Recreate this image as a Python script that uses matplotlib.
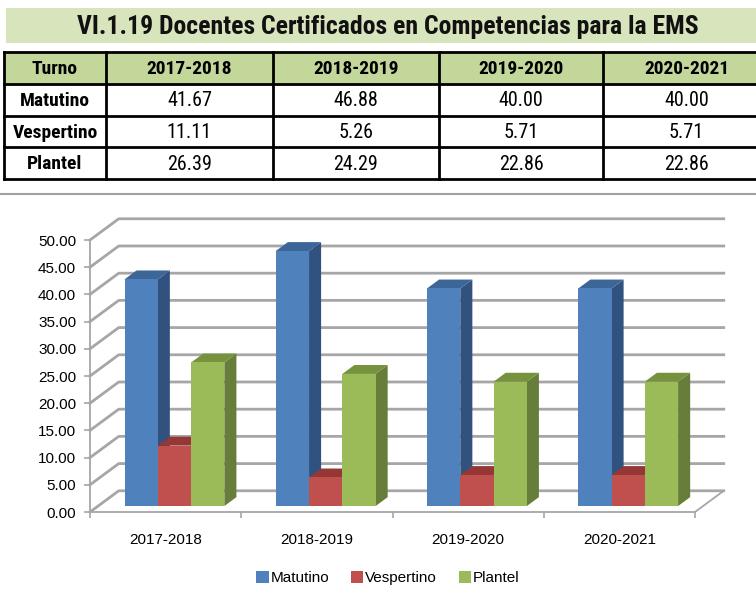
import numpy as np
import matplotlib
matplotlib.use("Agg")
import matplotlib.pyplot as plt
from matplotlib.patches import Rectangle, Polygon, Patch

plt.rcParams['font.family'] = ['Liberation Sans', 'DejaVu Sans']
NARROW = ['Roboto Condensed', 'Liberation Sans', 'DejaVu Sans']

# data
title = "VI.1.19 Docentes Certificados en Competencias para la EMS"
periods = ["2017-2018", "2018-2019", "2019-2020", "2020-2021"]
turnos = ["Matutino", "Vespertino", "Plantel"]
matutino = [41.67, 46.88, 40.00, 40.00]
vespertino = [11.11, 5.26, 5.71, 5.71]
plantel = [26.39, 24.29, 22.86, 22.86]
series = [matutino, vespertino, plantel]
yticks = np.arange(0, 55, 5)

# colours: front, top, side
colors = [("#4f81bd", "#3c6598", "#31527f"),
          ("#c0504d", "#953735", "#8c3836"),
          ("#9bbb59", "#76923c", "#677e3a")]
grid_c = "#a6a6a6"

fig = plt.figure(figsize=(7.56, 6.0), dpi=100)

# background axes in pixel units for the title band and the table
bg = fig.add_axes([0, 0, 1, 1])
bg.set_xlim(0, 756)
bg.set_ylim(600, 0)
bg.axis("off")

bg.add_patch(Rectangle((6, 8), 760, 35, facecolor="#d8e4bc", edgecolor="none"))
bg.text(388, 27, title, ha="center", va="center", fontsize=18.5,
        fontweight="bold", family=NARROW, color="#111111")

# table
col_x = [4, 106, 273, 439, 603, 770]
row_y = [52, 84, 116, 147, 179]
bg.add_patch(Rectangle((col_x[0], row_y[0]), col_x[-1] - col_x[0], row_y[1] - row_y[0],
                       facecolor="#c4d79b", edgecolor="none"))
for x in col_x:
    bg.plot([x, x], [row_y[0], row_y[-1]], color="black", lw=2, solid_capstyle="projecting")
for y in row_y:
    bg.plot([col_x[0], col_x[-1]], [y, y], color="black", lw=2, solid_capstyle="projecting")

header = ["Turno"] + periods
for k, h in enumerate(header):
    bg.text((col_x[k] + col_x[k + 1]) / 2, (row_y[0] + row_y[1]) / 2 + 1, h,
            ha="center", va="center", fontsize=14, fontweight="bold", family=NARROW)
for r, name in enumerate(turnos):
    yc = (row_y[r + 1] + row_y[r + 2]) / 2 + 1
    bg.text((col_x[0] + col_x[1]) / 2, yc, name, ha="center", va="center",
            fontsize=14, fontweight="bold", family=NARROW)
    for k, v in enumerate(series[r]):
        bg.text((col_x[k + 1] + col_x[k + 2]) / 2, yc, f"{v:.2f}", ha="center",
                va="center", fontsize=14.5, family=NARROW)

# chart border line
bg.plot([0, 756], [194, 194], color="#a0a0a0", lw=1.5)

# 3D-look bar chart
ax = fig.add_axes([90 / 756, 88 / 600, 605 / 756, 272 / 600])
ax.set_xlim(-0.5, len(periods) - 0.5)
ax.set_ylim(0, 50)
ax.patch.set_alpha(0)

DX, DY = 0.19, 3.9        # wall depth in data units
F, D = 0.28, 0.42         # bar front position and depth, as fraction of wall depth
W = 0.22

for v in yticks:
    ax.plot([-0.5, -0.5 + DX, len(periods) - 0.5 + DX], [v, v + DY, v + DY],
            color=grid_c, lw=2, clip_on=False, zorder=1)
ax.plot([len(periods) - 0.5, len(periods) - 0.5 + DX], [0, DY],
        color=grid_c, lw=1.3, clip_on=False, zorder=1)

bdx, bdy = D * DX, D * DY
for i in range(len(periods)):
    for j, vals in enumerate(series):
        v = vals[i]
        x0 = i - 1.5 * W + j * W + F * DX + 0.005
        y0 = F * DY
        front, top, side = colors[j]
        ax.add_patch(Polygon([(x0 + W, y0), (x0 + W + bdx, y0 + bdy),
                              (x0 + W + bdx, y0 + v + bdy), (x0 + W, y0 + v)],
                             closed=True, facecolor=side, edgecolor="none",
                             zorder=3, clip_on=False))
        ax.add_patch(Polygon([(x0, y0 + v), (x0 + W, y0 + v),
                              (x0 + W + bdx, y0 + v + bdy), (x0 + bdx, y0 + v + bdy)],
                             closed=True, facecolor=top, edgecolor="none",
                             zorder=3, clip_on=False))
        ax.add_patch(Rectangle((x0, y0), W, v, facecolor=front, edgecolor="none",
                               zorder=3, clip_on=False))

for s in ["top", "right"]:
    ax.spines[s].set_visible(False)
for s in ["left", "bottom"]:
    ax.spines[s].set_color(grid_c)
    ax.spines[s].set_linewidth(1.3)

ax.set_yticks(yticks)
ax.set_yticklabels([f"{v:.2f}" for v in yticks], fontsize=11)
ax.tick_params(axis="y", length=4, width=1.2, color=grid_c, pad=6)

ax.set_xticks(np.arange(-0.5, len(periods) + 0.5, 1))
ax.set_xticklabels([])
ax.tick_params(axis="x", which="major", length=4, width=1.2, color=grid_c)
ax.set_xticks(np.arange(len(periods)), minor=True)
ax.set_xticklabels(periods, minor=True, fontsize=11)
ax.tick_params(axis="x", which="minor", length=0, pad=15)

handles = [Patch(facecolor=c[0], edgecolor="none") for c in colors]
fig.legend(handles, turnos, loc="center", bbox_to_anchor=(388 / 756, 1 - 578 / 600),
           ncol=3, frameon=False, fontsize=11, handlelength=0.8, handleheight=0.8,
           handletextpad=0.15, columnspacing=1.4)

fig.savefig("out.png", dpi=100)
